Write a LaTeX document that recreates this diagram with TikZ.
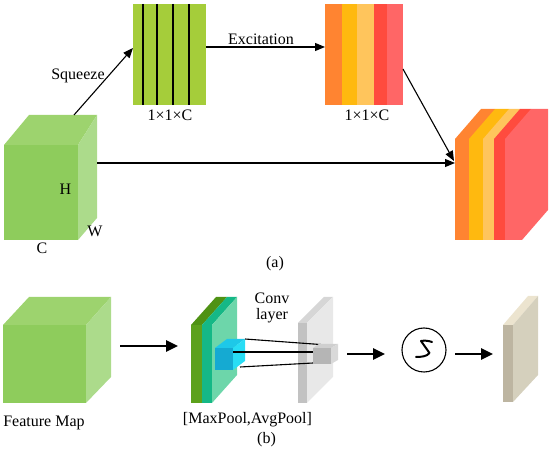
\documentclass[tikz,border=0pt]{standalone}
\usepackage{fontspec}
\setmainfont{Liberation Serif}
\usetikzlibrary{arrows.meta}
\definecolor{gfront}{HTML}{8ECC5C}
\definecolor{gtop}{HTML}{9DD36E}
\definecolor{gside}{HTML}{ACDB8B}
\definecolor{lime}{HTML}{A5CD3A}
\definecolor{cA}{HTML}{FF8431}
\definecolor{cB}{HTML}{FFB90F}
\definecolor{cC}{HTML}{FFC55C}
\definecolor{cD}{HTML}{FF4B3E}
\definecolor{cE}{HTML}{FF6666}
\definecolor{dgreen}{HTML}{5CA11C}
\definecolor{dgreentop}{HTML}{4F9214}
\definecolor{teal}{HTML}{15B886}
\definecolor{mint}{HTML}{6DD6AA}
\definecolor{cyfront}{HTML}{15AAD2}
\definecolor{cytop}{HTML}{1EC8E8}
\definecolor{cyside}{HTML}{28DDF5}
\definecolor{grfront}{HTML}{C2C2C2}
\definecolor{grtop}{HTML}{D6D6D6}
\definecolor{grside}{HTML}{E8E8E8}
\definecolor{gcfront}{HTML}{B5B5B5}
\definecolor{gctop}{HTML}{CFCFCF}
\definecolor{gcside}{HTML}{D9D9D9}
\definecolor{bfront}{HTML}{BDB5A1}
\definecolor{btop}{HTML}{ECE4CF}
\definecolor{bside}{HTML}{D5D0BD}
\begin{document}
\begin{tikzpicture}[x=1pt,y=-1pt,
  lbl/.style={font=\fontsize{16}{19}\selectfont, inner sep=0pt, anchor=base},
  thin/.style={line width=1.1pt, -{Triangle[length=10pt,width=8pt]}},
  thick/.style={line width=2.6pt, -{Triangle[length=12pt,width=11pt]}},
  plain/.style={line width=1.1pt}]
\useasboundingbox (0,0) rectangle (550,454);

% ---------- (a) ----------
% input cube
\fill[gfront] (4,145) rectangle (78,240);
\fill[gtop] (4,145) -- (29,115) -- (97,115) -- (78,145) -- cycle;
\fill[gside] (78,145) -- (97,115) -- (97,218) -- (78,240) -- cycle;
\node[lbl] (H) at (65.5,195) {H};
\node[lbl] (W) at (95,237) {W};
\node[lbl] (C) at (42,254) {C};
\coordinate (cubeTop) at (74,115);
\coordinate (cubeRight) at (97,163);

% green squeezed vector
\node[fill=lime, minimum width=73pt, minimum height=101pt, inner sep=0pt, anchor=north west] (gvec) at (133,4) {};
\foreach \xx in {143,157,173,189} \draw[plain] (\xx,4) -- (\xx,105);
\node[lbl] (gdim) at (170,121) {1×1×C};
\coordinate (gvecIn) at (133,48);
\coordinate (gvecOut) at (206,47);

% orange excitation vector
\fill[cA] (325,4) rectangle (342,105);
\fill[cB] (342,4) rectangle (357,105);
\fill[cC] (357,4) rectangle (374,105);
\fill[cD] (374,4) rectangle (387,105);
\fill[cE] (387,4) rectangle (403,105);
\node[minimum width=78pt, minimum height=101pt, inner sep=0pt, anchor=north west] (ovec) at (325,4) {};
\node[lbl] (odim) at (367,121) {1×1×C};
\coordinate (ovecIn) at (325,47);
\coordinate (ovecOut) at (403,69);

% output block
\foreach \a/\b/\c in {455/469/cA,469/483/cB,483/494/cC,494/505/cD,505/522/cE}
  \fill[\c] (\a,240) -- (\a,139) -- (\a+26,109) -- (\b+26,109) -- (\b+26,210) -- (\b,240) -- cycle;
\coordinate (outA) at (454,161);
\coordinate (outB) at (455,163);

% connectors (a)
\draw[thin] (cubeTop) -- (gvecIn);
\node[lbl] (sq) at (78,80) {Squeeze};
\draw[thin] (gvecOut) -- (ovecIn);
\node[lbl] (ex) at (261,45) {Excitation};
\draw[thin] (ovecOut) -- (outA);
\draw[thin] (cubeRight) -- (outB);
\node[lbl] (capa) at (275,268) {(a)};

% ---------- (b) ----------
% feature map cube
\fill[gfront] (3,325) rectangle (86,403);
\fill[gtop] (3,325) -- (29,297) -- (111,297) -- (86,325) -- cycle;
\fill[gside] (86,325) -- (111,297) -- (111,377) -- (86,403) -- cycle;
\node[lbl] (fm) at (44,427) {Feature Map};
\coordinate (fmOut) at (120,346);
\coordinate (poolIn) at (178,346);

% pooled maps
\fill[dgreen] (191,325) rectangle (202,403);
\fill[dgreentop] (191,325) -- (216,297) -- (227,297) -- (202,325) -- cycle;
\fill[teal] (202,325) rectangle (212,403);
\fill[teal] (202,325) -- (227,297) -- (237,297) -- (212,325) -- cycle;
\fill[mint] (212,325) -- (237,297) -- (237,375) -- (212,403) -- cycle;
% cyan kernel cube
\fill[cyfront] (215,348) rectangle (233,370);
\fill[cytop] (215,348) -- (227,339) -- (245,339) -- (233,348) -- cycle;
\fill[cyside] (233,348) -- (245,339) -- (245,361) -- (233,370) -- cycle;
\node[lbl] (pool) at (247.5,424) {[MaxPool,AvgPool]};
\node[lbl] (capb) at (266.5,444) {(b)};

% conv layer slab
\fill[grfront] (298,323) rectangle (307,403);
\fill[grtop] (298,323) -- (324,297) -- (333,297) -- (307,323) -- cycle;
\fill[grside] (307,323) -- (333,297) -- (333,377) -- (307,403) -- cycle;
\node[lbl] (conv) at (272,304) {Conv};
\node[lbl] (layer) at (272,320) {layer};

% projection lines
\coordinate (k1) at (245,339);
\coordinate (k2) at (233,352);
\coordinate (k3) at (240,367);
\coordinate (p1) at (327,345);
\coordinate (p2) at (313,352);
\coordinate (p3) at (313,363);
\draw[plain] (k1) -- (p1);
\draw[plain] (k2) -- (p2);
\draw[plain] (k3) -- (p3);

% grey output cube
\fill[gcfront] (313,348) rectangle (331,364);
\fill[gctop] (313,348) -- (319,344) -- (338,344) -- (331,348) -- cycle;
\fill[gcside] (331,348) -- (338,344) -- (338,360) -- (331,364) -- cycle;
\coordinate (convOut) at (347,354);

% sigmoid
\node[draw, circle, line width=1.1pt, minimum size=44pt, inner sep=0pt] (sig) at (424,350) {};
\draw[line width=2pt, line cap=round, line join=round]
  (432,342) .. controls (428,340.5) and (424,340.5) .. (421,341)
  -- (429.5,353) .. controls (427,356.5) and (421,357) .. (416,357);
\coordinate (sigIn) at (385,354);
\coordinate (sigOut) at (455,354);
\coordinate (attIn) at (493,354);

% attention map slab
\fill[bfront] (503,325) rectangle (513,402);
\fill[btop] (503,325) -- (528,296) -- (538,296) -- (513,325) -- cycle;
\fill[bside] (513,325) -- (538,296) -- (538,375) -- (513,402) -- cycle;

% thick arrows
\draw[thick] (fmOut) -- (poolIn);
\draw[thick] (convOut) -- (sigIn);
\draw[thick] (sigOut) -- (attIn);
\end{tikzpicture}
\end{document}
